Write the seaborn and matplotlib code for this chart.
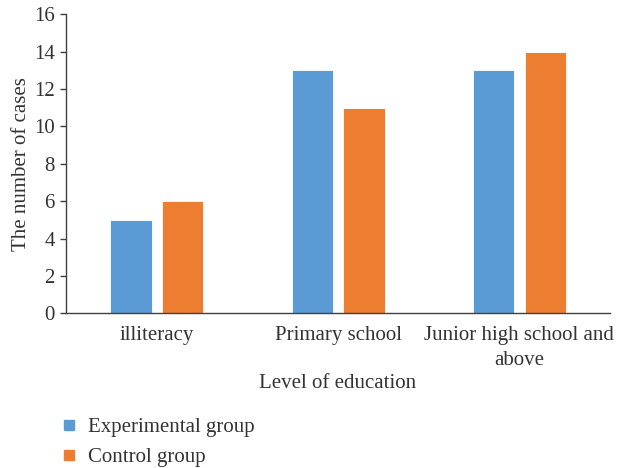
import matplotlib
matplotlib.use("Agg")
import matplotlib.pyplot as plt
from matplotlib.lines import Line2D
import numpy as np
import pandas as pd
import seaborn as sns

# Education levels and case counts per group
levels = ["illiteracy", "Primary school", "Junior high school and\nabove"]
groups = ["Experimental group", "Control group"]
experimental = [5, 13, 13]
control = [6, 11, 14]
colors = ["#5B9BD5", "#ED7D31"]
yticks = [0, 2, 4, 6, 8, 10, 12, 14, 16]

df = pd.DataFrame({
    "level": levels * 2,
    "group": [groups[0]] * len(levels) + [groups[1]] * len(levels),
    "cases": experimental + control,
})

sns.set_theme(style="white")
plt.rcParams["font.family"] = ["Liberation Serif", "DejaVu Serif"]
text_color = "#333333"
axis_color = "#404040"

fig = plt.figure(figsize=(6.17, 4.68), dpi=100)
ax = fig.add_axes([0.107, 0.3305, 0.8817, 0.6389])

sns.barplot(data=df, x="level", y="cases", hue="group", order=levels,
            hue_order=groups, palette=colors, width=0.57, gap=0.2,
            saturation=1, edgecolor="white", linewidth=0.6, legend=False, ax=ax)

ax.set_xlim(-0.5, len(levels) - 0.5)
ax.set_ylim(0, 16)
ax.set_yticks(yticks)
ax.set_yticklabels([str(v) for v in yticks], fontsize=15, color=text_color)

ax.set_xticks(range(len(levels)))
ax.set_xticklabels(levels, fontsize=15, color=text_color, linespacing=1.45)
ax.set_xticks(np.arange(-0.5, len(levels), 1.0), minor=True)
ax.tick_params(axis="x", which="both", direction="in", length=4, width=1,
               color=axis_color, pad=9)
ax.tick_params(axis="y", direction="out", length=4, width=1,
               color=axis_color, pad=4, left=True)

for side in ["top", "right"]:
    ax.spines[side].set_visible(False)
for side in ["left", "bottom"]:
    ax.spines[side].set_visible(True)
    ax.spines[side].set_color(axis_color)
    ax.spines[side].set_linewidth(1.0)

ax.set_xlabel("Level of education", fontsize=15, color=text_color, labelpad=3)
ax.set_ylabel("The number of cases", fontsize=15, color=text_color, labelpad=2)

handles = [Line2D([], [], marker="s", linestyle="none", markersize=7,
                  markerfacecolor=c, markeredgecolor=c) for c in colors]
fig.legend(handles, groups, loc="upper left", bbox_to_anchor=(0.082, 0.126),
           frameon=False, fontsize=15, handletextpad=0.4, labelspacing=0.5,
           handlelength=1.0, labelcolor=text_color, borderaxespad=0)

fig.savefig("out.png", dpi=100)
